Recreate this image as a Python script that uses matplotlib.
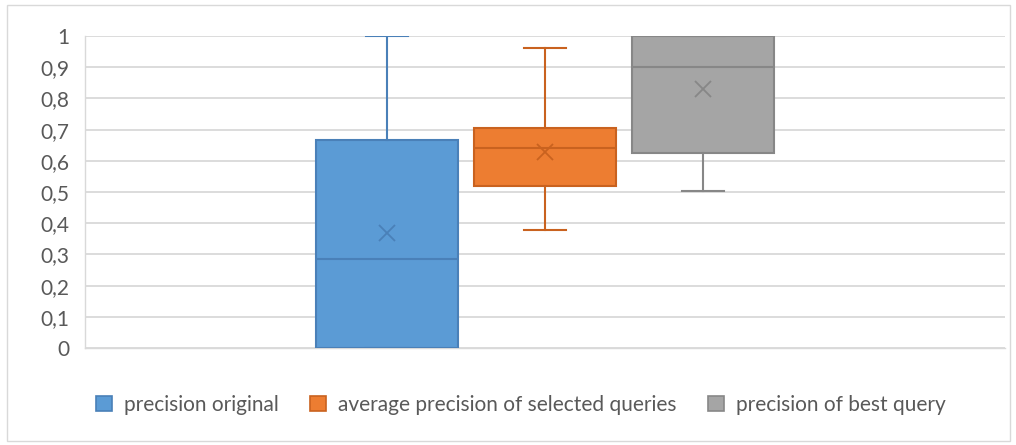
import matplotlib
matplotlib.use("Agg")
import matplotlib.pyplot as plt
from matplotlib.patches import Rectangle, Patch
from matplotlib.ticker import FuncFormatter

series = ["precision original", "average precision of selected queries", "precision of best query"]
whislo = [0.0, 0.378, 0.503]
q1 = [0.0, 0.519, 0.625]
med = [0.285, 0.641, 0.90]
q3 = [0.667, 0.705, 1.0]
whishi = [1.0, 0.962, 1.0]
means = [0.369, 0.628, 0.83]

face = ["#5B9BD5", "#ED7D31", "#A5A5A5"]
edge = ["#4A80B8", "#C9621F", "#878787"]
yticks = [0, 0.1, 0.2, 0.3, 0.4, 0.5, 0.6, 0.7, 0.8, 0.9, 1.0]

plt.rcParams['font.family'] = ['Lato', 'DejaVu Sans']
fig = plt.figure(figsize=(10.16, 4.45), dpi=100)
W, H = 1016, 445
ax = fig.add_axes([85 / W, 1 - 348 / H, 920 / W, 312 / H])

positions = [-1, 0, 1]
for i in range(3):
    st = [dict(whislo=whislo[i], q1=q1[i], med=med[i], q3=q3[i], whishi=whishi[i],
               mean=means[i], fliers=[], label=series[i])]
    ax.bxp(st, positions=[positions[i]], widths=0.9, patch_artist=True, showmeans=True,
           boxprops=dict(facecolor=face[i], edgecolor=edge[i], linewidth=1.5),
           medianprops=dict(color=edge[i], linewidth=1.5),
           whiskerprops=dict(color=edge[i], linewidth=1.5),
           capprops=dict(color=edge[i], linewidth=1.5),
           capwidths=0.27,
           meanprops=dict(marker='x', markeredgecolor=edge[i], markersize=11, markeredgewidth=1.3),
           manage_ticks=False, zorder=3)

ax.set_xlim(-460 / 158, 460 / 158)
ax.set_ylim(0, 1)
ax.set_yticks(yticks)
ax.yaxis.set_major_formatter(FuncFormatter(lambda v, p: ("%g" % round(v, 1)).replace(".", ",")))
ax.set_xticks([])
ax.grid(axis='y', color='#D9D9D9', linewidth=1.3, zorder=0)
ax.set_axisbelow(True)
for s in ['top', 'right']:
    ax.spines[s].set_visible(False)
for s in ['left', 'bottom']:
    ax.spines[s].set_color('#D9D9D9')
    ax.spines[s].set_linewidth(1.0)
ax.tick_params(axis='y', length=0, pad=11, labelsize=15, labelcolor='#595959')

handles = [Patch(facecolor=face[i], edgecolor=edge[i], linewidth=1.2, label=series[i]) for i in range(3)]
leg = fig.legend(handles=handles, loc='center', bbox_to_anchor=(521 / W, 1 - 405 / H), ncol=3,
                 frameon=False, fontsize=15, handlelength=0.75, handleheight=0.75,
                 handletextpad=0.6, columnspacing=1.5, labelcolor='#595959')

fig.patches.append(Rectangle((7 / W, 4 / H), 1003 / W, 436 / H, transform=fig.transFigure,
                             fill=False, edgecolor='#D9D9D9', linewidth=1.0))

fig.savefig("out.png", dpi=100)
